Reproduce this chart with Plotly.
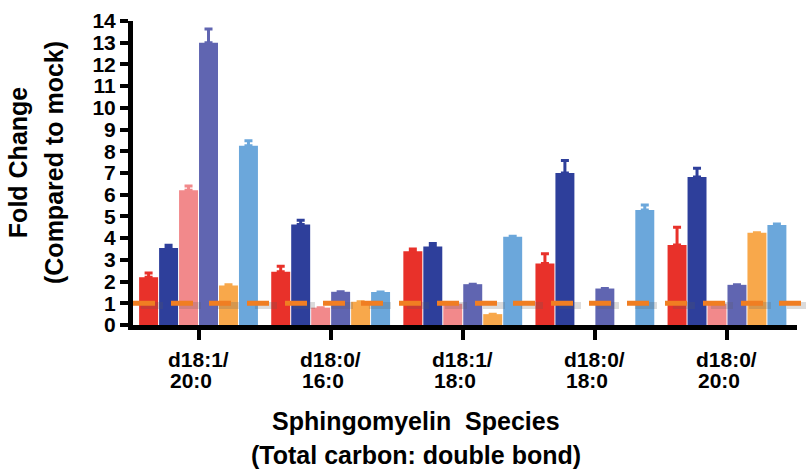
import plotly.graph_objects as go

# Sphingomyelin species on the x axis (headgroup base / fatty acyl chain)
species = ["d18:1/20:0", "d18:0/16:0", "d18:1/18:0", "d18:0/18:0", "d18:0/20:0"]

# Fold change (vs. mock) for each condition, with upper error (SEM)
cond_a = [2.2, 2.45, 3.4, 2.83, 3.68]
cond_a_err = [0.2, 0.25, 0.1, 0.45, 0.82]
cond_b = [3.55, 4.63, 3.62, 7.0, 6.82]
cond_b_err = [0.12, 0.19, 0.13, 0.57, 0.4]
cond_c = [6.2, 0.8, 0.98, None, 0.98]
cond_c_err = [0.2, 0, 0, 0, 0]
cond_d = [13.0, 1.53, 1.88, 1.68, 1.85]
cond_d_err = [0.63, 0, 0, 0, 0]
cond_e = [1.82, 1.07, 0.5, None, 4.25]
cond_e_err = [0.03, 0, 0, 0, 0]
cond_f = [8.25, 1.52, 4.06, 5.3, 4.6]
cond_f_err = [0.23, 0, 0.03, 0.23, 0.05]

mock_level = 1
y_ticks = list(range(0, 15))

series = [
    ("Condition A", cond_a, cond_a_err, "#E8312A"),
    ("Condition B", cond_b, cond_b_err, "#2E3F9B"),
    ("Condition C", cond_c, cond_c_err, "#F2898B"),
    ("Condition D", cond_d, cond_d_err, "#6065B1"),
    ("Condition E", cond_e, cond_e_err, "#F8A84B"),
    ("Condition F", cond_f, cond_f_err, "#6BA7DB"),
]

font_family = "Arial, Liberation Sans, sans-serif"

fig = go.Figure()
for name, vals, errs, color in series:
    fig.add_trace(go.Bar(
        name=name, x=species, y=vals, marker_color=color,
        marker_line_width=0,
        error_y=dict(type="data", array=errs, arrayminus=[0] * len(errs),
                     symmetric=False, color=color, thickness=3, width=4),
    ))

# Mock reference line with a soft shadow beneath it
fig.add_shape(type="line", xref="paper", yref="y", x0=0.012, x1=1.03,
              y0=mock_level - 0.1, y1=mock_level - 0.1,
              line=dict(color="rgba(90,90,90,0.22)", width=7, dash="22px,16px"))
fig.add_shape(type="line", xref="paper", yref="y", x0=0, x1=1.03,
              y0=mock_level, y1=mock_level,
              line=dict(color="#F07E22", width=5, dash="22px,16px"))

fig.update_layout(
    width=806, height=476,
    margin=dict(l=133, r=9, t=16, b=151),
    paper_bgcolor="white", plot_bgcolor="white",
    barmode="group", bargap=0.093, bargroupgap=0.05,
    showlegend=False,
    font=dict(family=font_family, color="black"),
    xaxis=dict(
        range=[-0.496, 4.53], showline=True, linecolor="black", linewidth=5,
        ticks="outside", ticklen=10, tickwidth=4, tickcolor="black",
        showticklabels=False, showgrid=False, zeroline=False,
    ),
    yaxis=dict(
        range=[0, 14], tickvals=y_ticks, showline=True, linecolor="black",
        linewidth=5, ticks="outside", ticklen=8, tickwidth=4,
        tickcolor="black", tickfont=dict(size=21, weight="bold", family=font_family),
        showgrid=False, zeroline=False,
    ),
)

# Category labels: split at the slash, second line left-aligned under the first
label_font = dict(size=21, weight="bold", family=font_family, color="black")
for cat in species:
    base, chain = cat.split("/")
    fig.add_annotation(text=base + "/", x=cat, xref="x", yref="paper", y=-0.115,
                       showarrow=False, font=label_font,
                       xanchor="center", yanchor="middle")
    fig.add_annotation(text=chain, x=cat, xref="x", yref="paper", y=-0.184,
                       xshift=-31, showarrow=False, font=label_font,
                       xanchor="left", yanchor="middle")

title_font = dict(size=25, weight="bold", family=font_family, color="black")
fig.add_annotation(text="Sphingomyelin&nbsp;&nbsp;Species", xref="paper", yref="paper",
                   x=0.426, y=-0.315, showarrow=False, font=title_font,
                   xanchor="center", yanchor="middle")
fig.add_annotation(text="(Total carbon: double bond)", xref="paper", yref="paper",
                   x=0.426, y=-0.428, showarrow=False, font=title_font,
                   xanchor="center", yanchor="middle")
fig.add_annotation(text="Fold Change", xref="paper", yref="paper",
                   x=-0.172, y=0.535, showarrow=False, font=title_font,
                   textangle=-90, xanchor="center", yanchor="middle")
fig.add_annotation(text="(Compared to mock)", xref="paper", yref="paper",
                   x=-0.118, y=0.535, showarrow=False, font=title_font,
                   textangle=-90, xanchor="center", yanchor="middle")

fig.write_html("out.html")
